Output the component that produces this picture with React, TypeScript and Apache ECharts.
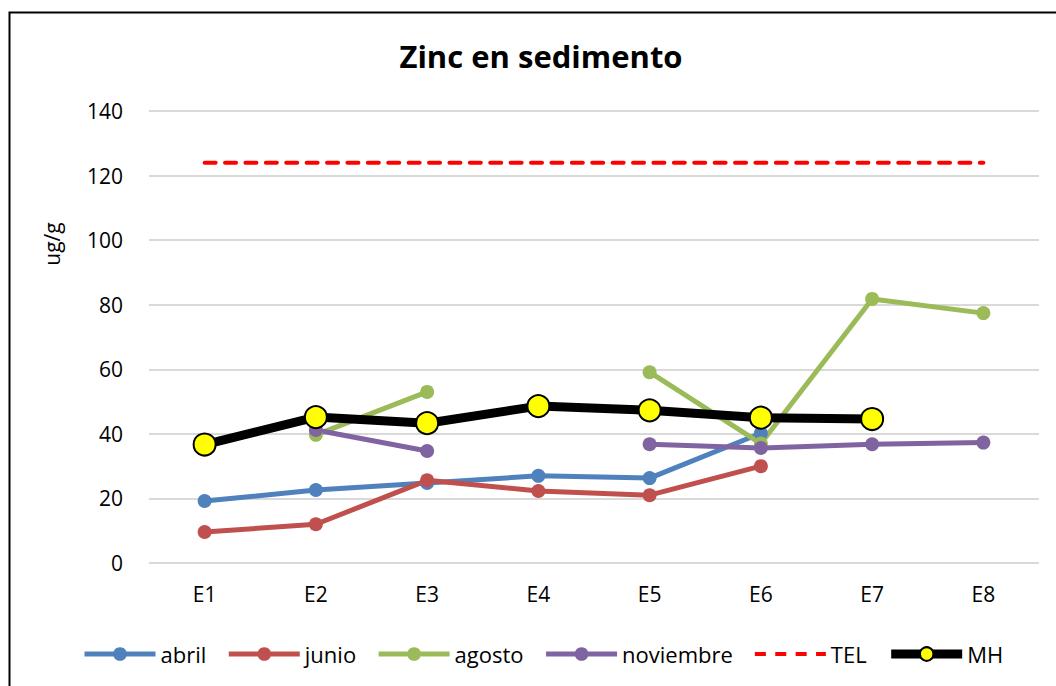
import React, { useEffect, useRef } from "react";
import * as echarts from "echarts";

const categories = ["E1", "E2", "E3", "E4", "E5", "E6", "E7", "E8"];
const abril = [19.2, 22.6, 24.8, 27, 26.3, 40.2, null, null];
const junio = [9.6, 12, 25.6, 22.3, 21, 30, null, null];
const agosto = [null, 39.7, 53, null, 59.1, 37, 81.8, 77.4];
const noviembre = [null, 41.2, 34.7, null, 36.8, 35.6, 36.8, 37.3];
const tel = [124, 124, 124, 124, 124, 124, 124, 124];
const mh = [36.7, 45.2, 43.3, 48.6, 47.3, 45, 44.6, null];
const legendNames = ["abril", "junio", "agosto", "noviembre", "TEL", "MH"];

const FONT = "Open Sans";

export default function App() {
  const ref = useRef<HTMLDivElement>(null);
  useEffect(() => {
    if (!ref.current) return;
    const chart = echarts.init(ref.current, null, { renderer: "svg" });
    const lineSeries = (name: string, data: (number | null)[], color: string) => ({
      name,
      type: "line",
      data,
      symbol: "circle",
      symbolSize: 14,
      connectNulls: false,
      lineStyle: { color, width: 5, cap: "round" },
      itemStyle: { color },
      z: 3,
    });
    chart.setOption({
      animation: false,
      backgroundColor: "#fff",
      textStyle: { fontFamily: FONT },
      title: {
        text: "Zinc en sedimento",
        left: 536,
        textAlign: "center",
        top: 35,
        textStyle: { fontFamily: FONT, fontWeight: "bold", fontSize: 31, color: "#000" },
      },
      graphic: [
        {
          type: "rect",
          shape: { x: 9.5, y: 12.5, width: 1100, height: 700 },
          style: { fill: "none", stroke: "#000", lineWidth: 2 },
          silent: true,
        },
        {
          type: "text",
          x: 52,
          y: 244,
          rotation: Math.PI / 2,
          style: {
            text: "ug/g",
            fontFamily: FONT,
            fontSize: 21,
            fill: "#000",
            align: "center",
            verticalAlign: "middle",
          },
          silent: true,
        },
      ],
      grid: { left: 149, right: 17, top: 111, bottom: 123 },
      legend: {
        top: 643,
        left: 82,
        padding: 0,
        itemWidth: 71,
        itemHeight: 17,
        itemGap: 20,
        lineStyle: { width: "inherit", cap: "butt" },
        textStyle: { fontFamily: FONT, fontSize: 22, color: "#000" },
        data: legendNames.map((n) =>
          n === "TEL" ? { name: n, itemStyle: { opacity: 0 } } : { name: n }
        ),
      },
      xAxis: {
        type: "category",
        data: categories,
        boundaryGap: true,
        axisLine: { show: false },
        axisTick: { show: false },
        axisLabel: { fontFamily: FONT, fontSize: 21, color: "#000", margin: 20 },
      },
      yAxis: {
        type: "value",
        min: 0,
        max: 140,
        interval: 20,
        axisLine: { show: false },
        axisTick: { show: false },
        axisLabel: { fontFamily: FONT, fontSize: 21, color: "#000", margin: 26 },
        splitLine: { lineStyle: { color: "#d9d9d9", width: 2 } },
      },
      series: [
        lineSeries("abril", abril, "#4f81bd"),
        lineSeries("junio", junio, "#c0504d"),
        lineSeries("agosto", agosto, "#9bbb59"),
        lineSeries("noviembre", noviembre, "#8064a2"),
        {
          name: "TEL",
          type: "line",
          data: tel,
          symbol: "none",
          lineStyle: { color: "#ff0000", width: 4, type: [11, 9.4], cap: "round" },
          itemStyle: { color: "#ff0000" },
          z: 2,
        },
        {
          name: "MH",
          type: "line",
          data: mh,
          symbol: "circle",
          symbolSize: 22,
          lineStyle: { color: "#000", width: 9, cap: "round" },
          itemStyle: { color: "#ffff00", borderColor: "#000", borderWidth: 2 },
          z: 4,
        },
      ],
    });
    return () => chart.dispose();
  }, []);
  return (
    <div
      ref={ref}
      style={{ position: "fixed", left: 0, top: 0, width: 1056, height: 686 }}
    />
  );
}
